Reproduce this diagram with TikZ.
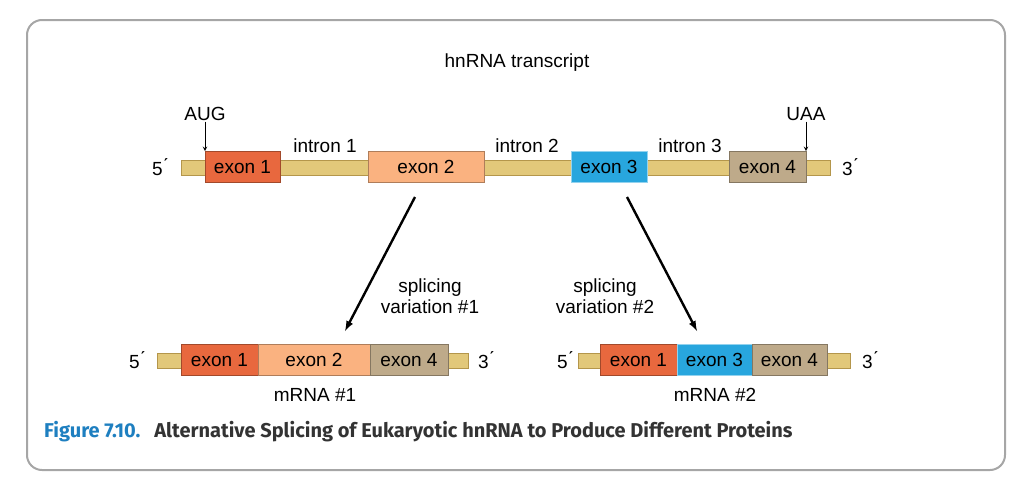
\documentclass[tikz,border=0pt]{standalone}
\usepackage{fontspec}
\setmainfont{Liberation Sans}
\newfontfamily\capfont{Fira Sans}
\usetikzlibrary{calc}
\definecolor{barcol}{RGB}{226,200,122}
\definecolor{barline}{RGB}{180,150,75}
\definecolor{exA}{RGB}{232,104,62}
\definecolor{exB}{RGB}{250,178,128}
\definecolor{exC}{RGB}{40,166,222}
\definecolor{exD}{RGB}{190,170,138}
\definecolor{capblue}{RGB}{30,127,192}
\tikzset{
  strand/.style={draw=barline,fill=barcol,line width=0.8pt},
  exon/.style={draw=#1!70!black,fill=#1,line width=0.8pt,minimum height=31pt,inner sep=0pt,font=\fontsize{19}{19}\selectfont},
  lbl/.style={inner sep=0.75pt,font=\fontsize{19}{21}\selectfont,align=center},
  splice/.style={line width=2.4pt,-latex},
  codon/.style={line width=1pt,-stealth}
}
\begin{document}
\begin{tikzpicture}[x=1pt,y=-1pt]
\useasboundingbox (0,0) rectangle (1034,490);
\draw[gray!70,line width=2pt,rounded corners=15pt] (27,20) rectangle (1005,470);

\node[lbl] (title) at (517,63) {hnRNA transcript};

% hnRNA
\draw[strand] (181,160) rectangle (830,175);
\node[exon=exA,minimum width=75pt] (e1) at (242.5,167) {exon 1};
\node[exon=exB,minimum width=116pt] (e2) at (426,167) {exon 2};
\node[exon=exC,draw=exC!50!white,minimum width=76pt] (e3) at (609,167) {exon 3};
\node[exon=exD,minimum width=77pt] (e4) at (767.5,167) {exon 4};
\node[lbl] (p5) at (160,167) {5\'{}};
\node[lbl] (p3) at (850,167) {3\'{}};
\node[lbl] (aug) at (205,114) {AUG};
\node[lbl] (uaa) at (806,114) {UAA};
\draw[codon] (aug.south) -- (aug.south |- e1.north);
\draw[codon] (uaa.south) -- (uaa.south |- e4.north);
\node[lbl] (i1) at (325,146) {intron 1};
\node[lbl] (i2) at (527,146) {intron 2};
\node[lbl] (i3) at (690,146) {intron 3};

% mRNA #1
\draw[strand] (157,353) rectangle (468,368);
\node[exon=exA,minimum width=77pt] (a1) at (219.5,360) {exon 1};
\node[exon=exB,minimum width=112pt] (a2) at (314,360) {exon 2};
\node[exon=exD,minimum width=78pt] (a4) at (409,360) {exon 4};
\node[lbl] (q5) at (137,360) {5\'{}};
\node[lbl] (q3) at (486,360) {3\'{}};
\node[lbl] (m1) at (315,395) {mRNA \#1};

% mRNA #2
\draw[strand] (578,353) rectangle (850,368);
\node[exon=exA,minimum width=77pt] (b1) at (638.5,360) {exon 1};
\node[exon=exC,draw=exC!50!white,minimum width=75pt] (b3) at (714.5,360) {exon 3};
\node[exon=exD,minimum width=75pt] (b4) at (789.5,360) {exon 4};
\node[lbl] (r5) at (565,360) {5\'{}};
\node[lbl] (r3) at (870,360) {3\'{}};
\node[lbl] (m2) at (715,395) {mRNA \#2};

% splicing
\coordinate (s1) at (415,197);
\coordinate (t1) at (345,331);
\coordinate (s2) at (627,197);
\coordinate (t2) at (697,331);
\draw[splice] (s1) -- (t1);
\draw[splice] (s2) -- (t2);
\node[lbl] (v1) at (430,296) {splicing\\variation \#1};
\node[lbl] (v2) at (605,296) {splicing\\variation \#2};

\node[anchor=west,inner sep=0pt,font=\capfont\bfseries\fontsize{20}{20}\selectfont] (cap) at (44,432)
  {\textcolor{capblue}{Figure 7.10.}\hspace{14pt}\textcolor{black!80}{Alternative Splicing of Eukaryotic hnRNA to Produce Different Proteins}};
\end{tikzpicture}
\end{document}
